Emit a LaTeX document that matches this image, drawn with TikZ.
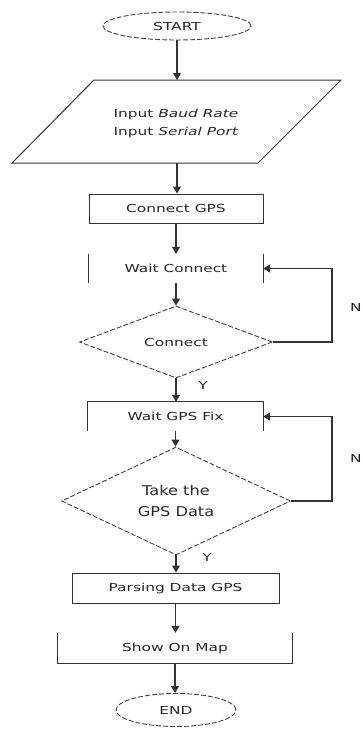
\documentclass[tikz,border=0pt]{standalone}
\usepackage{fontspec}
\setmainfont[FakeStretch=1.4]{DejaVu Sans}
\newfontfamily\bigfont[FakeStretch=1.2]{DejaVu Sans}
\usetikzlibrary{shapes.geometric,arrows.meta}
\begin{document}
\begin{tikzpicture}[x=1pt,y=-1pt,
  every node/.style={font=\fontsize{11}{18}\selectfont, text=black!85},
  ln/.style={line width=1pt, draw=black!80},
  arr/.style={line width=1.2pt, draw=black!80,-{Triangle[width=8pt,length=7pt]}},
  term/.style={ellipse, draw=black!75, dash pattern=on 5pt off 2pt, line width=0.9pt, inner sep=0pt},
  dec/.style={diamond, draw=black!75, dash pattern=on 5pt off 2pt, line width=0.9pt, inner sep=0pt},
  box/.style={rectangle, inner sep=0pt},
  lbl/.style={font=\fontsize{11}{12}\selectfont}
]
\useasboundingbox (0,0) rectangle (362,729);

% terminals
\node[term, minimum width=148pt, minimum height=28pt] (start) at (177,26) {START};
\node[term, minimum width=120pt, minimum height=33pt] (end) at (176,710) {END};

% input parallelogram
\draw[ln] (94,80) -- (341,80) -- (258,163) -- (12,163) -- cycle;
\coordinate (inT) at (177,80);
\coordinate (inB) at (177,163);
\node[align=center] (inp) at (176,123) {Input \textit{Baud Rate}\\Input \textit{Serial Port}};

% process boxes
\node[box, ln, minimum width=174pt, minimum height=29pt] (cg) at (176,208.5) {Connect GPS};
\node[box, minimum width=174pt, minimum height=29pt] (wc) at (176,268.5) {Wait Connect};
\draw[ln] (wc.north west) -- (wc.south west) (wc.north east) -- (wc.south east);

\node[dec, minimum width=193pt, minimum height=56pt] (d1) at (176,342) {Connect};

\node[box, minimum width=175pt, minimum height=29pt] (wg) at (175.5,416.5) {Wait GPS Fix};
\draw[ln] (wg.south west) -- (wg.north west) -- (wg.north east) -- (wg.south east);

\node[dec, minimum width=229pt, minimum height=82pt, align=center,
      font=\bigfont\fontsize{13.5}{21}\selectfont] (d2) at (176,501) {Take the\\GPS Data};

\node[box, ln, minimum width=207pt, minimum height=30pt] (pd) at (175.5,588) {Parsing Data GPS};

\node[box, minimum width=234pt, minimum height=30pt] (sm) at (175,648) {Show On Map};
\draw[ln] (sm.north west) -- (sm.south west) -- (sm.south east) -- (sm.north east);

% connectors
\draw[arr] (start.south) -- (start.south |- inT);
\draw[arr] (inB) -- (inB |- cg.north);
\draw[arr] (cg.south) -- (cg.south |- wc.north);
\draw[arr] (wc.south) -- (wc.south |- d1.north);
\draw[arr] (d1.south) -- (d1.south |- wg.north);
\draw[arr] (wg.south) -- (wg.south |- d2.north);
\draw[arr] (d2.south) -- (d2.south |- pd.north);
\draw[arr] (pd.south) -- (pd.south |- sm.north);
\draw[arr] (sm.south) -- (sm.south |- end.north);

% loops
\draw[arr] (d1.east) -- ++(59,0) |- (wc.east);
\draw[arr] (d2.east) -- ++(41,0) |- (wg.east);

% labels
\node[lbl] (n1) at (356,307) {N};
\node[lbl] (n2) at (356,458) {N};
\node[lbl] (y1) at (203,385) {Y};
\node[lbl] (y2) at (207,557) {Y};
\end{tikzpicture}
\end{document}
